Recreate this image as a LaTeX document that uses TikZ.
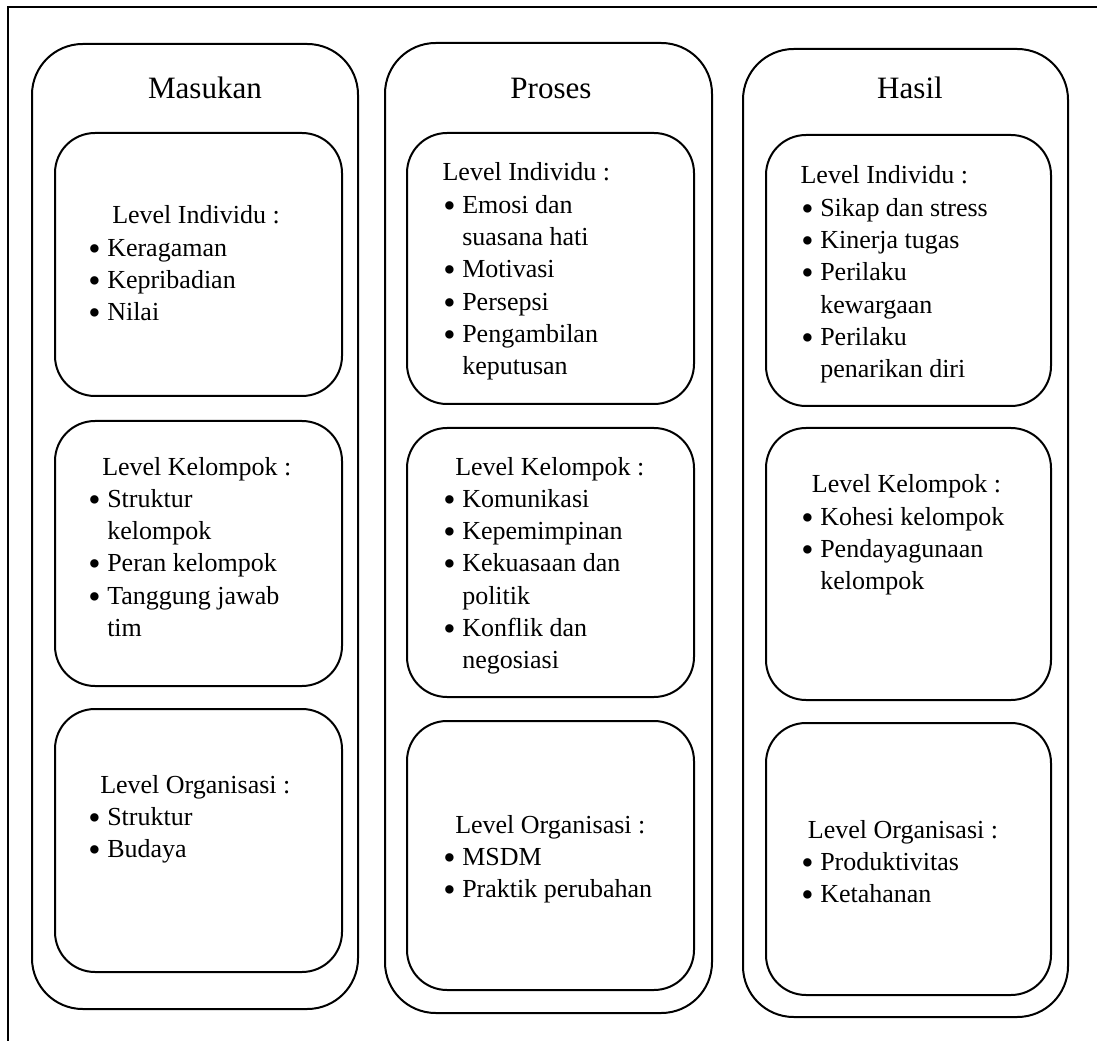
\documentclass[tikz,border=0pt]{standalone}
\usepackage{graphicx}
\usepackage{fontspec}
\setmainfont{Liberation Serif}
\newcommand{\bdot}{\raisebox{-3pt}{\scalebox{1.35}{•}}}
\newcommand{\bl}[1]{\makebox[14.25pt][l]{\bdot}#1}
\newcommand{\cl}[1]{\hspace*{14.25pt}#1}
\newcommand{\hd}[2]{\hspace*{#1pt}#2}
\tikzset{
  col/.style={line width=1.5pt, rounded corners=38pt},
  inbox/.style={line width=1.5pt, rounded corners=30pt},
  frame/.style={line width=1.5pt},
  head/.style={anchor=base, inner sep=0pt, font=\fontsize{23.3}{28}\selectfont},
  txt/.style={anchor=base west, inner sep=0pt, font=\fontsize{19.5}{24.2}\selectfont}
}
\renewcommand{\arraystretch}{1}
\begin{document}
\begin{tikzpicture}[x=0.75pt,y=-0.75pt]
\useasboundingbox (0,0) rectangle (1097,1041);
% outer frame (top and left only)
\draw[frame] (1097,7) -- (8,7) -- (8,1041);
% columns
\draw[col] (32,44) rectangle (358,1009);
\draw[col] (385,43) rectangle (712,1013);
\draw[col] (743,49) rectangle (1068,1017);
% headings
\node[head] (h1) at (205,99) {Masukan};
\node[head] (h2) at (551,99) {Proses};
\node[head] (h3) at (910,99) {Hasil};
% column 1 boxes
\draw[inbox] (55,133) rectangle (342,396);
\draw[inbox] (55,421) rectangle (342,686);
\draw[inbox] (55,709) rectangle (342,972);
% column 2 boxes
\draw[inbox] (407,133) rectangle (694,404);
\draw[inbox] (407,428) rectangle (694,697);
\draw[inbox] (407,721) rectangle (694,990);
% column 3 boxes
\draw[inbox] (766,135) rectangle (1051,406);
\draw[inbox] (766,428) rectangle (1051,700);
\draw[inbox] (766,723) rectangle (1051,995);
% texts column 1
\node[txt] (t11) at (88,224) {\begin{tabular}[t]{@{}l@{}}\hd{18}{Level Individu :}\\ \bl{Keragaman}\\ \bl{Kepribadian}\\ \bl{Nilai}\end{tabular}};
\node[txt] (t12) at (88,475) {\begin{tabular}[t]{@{}l@{}}\hd{10.5}{Level Kelompok :}\\ \bl{Struktur}\\ \cl{kelompok}\\ \bl{Peran kelompok}\\ \bl{Tanggung jawab}\\ \cl{tim}\end{tabular}};
\node[txt] (t13) at (88,793) {\begin{tabular}[t]{@{}l@{}}\hd{9}{Level Organisasi :}\\ \bl{Struktur}\\ \bl{Budaya}\end{tabular}};
% texts column 2
\node[txt] (t21) at (443,181) {\begin{tabular}[t]{@{}l@{}}\hd{-0.5}{Level Individu :}\\ \bl{Emosi dan}\\ \cl{suasana hati}\\ \bl{Motivasi}\\ \bl{Persepsi}\\ \bl{Pengambilan}\\ \cl{keputusan}\end{tabular}};
\node[txt] (t22) at (443,475) {\begin{tabular}[t]{@{}l@{}}\hd{9}{Level Kelompok :}\\ \bl{Komunikasi}\\ \bl{Kepemimpinan}\\ \bl{Kekuasaan dan}\\ \cl{politik}\\ \bl{Konflik dan}\\ \cl{negosiasi}\end{tabular}};
\node[txt] (t23) at (443,833) {\begin{tabular}[t]{@{}l@{}}\hd{9}{Level Organisasi :}\\ \bl{MSDM}\\ \bl{Praktik perubahan}\end{tabular}};
% texts column 3
\node[txt] (t31) at (801,184) {\begin{tabular}[t]{@{}l@{}}\hd{-0.5}{Level Individu :}\\ \bl{Sikap dan stress}\\ \bl{Kinerja tugas}\\ \bl{Perilaku}\\ \cl{kewargaan}\\ \bl{Perilaku}\\ \cl{penarikan diri}\end{tabular}};
\node[txt] (t32) at (801,493) {\begin{tabular}[t]{@{}l@{}}\hd{8}{Level Kelompok :}\\ \bl{Kohesi kelompok}\\ \bl{Pendayagunaan}\\ \cl{kelompok}\end{tabular}};
\node[txt] (t33) at (801,838) {\begin{tabular}[t]{@{}l@{}}\hd{5}{Level Organisasi :}\\ \bl{Produktivitas}\\ \bl{Ketahanan}\end{tabular}};
\end{tikzpicture}
\end{document}
